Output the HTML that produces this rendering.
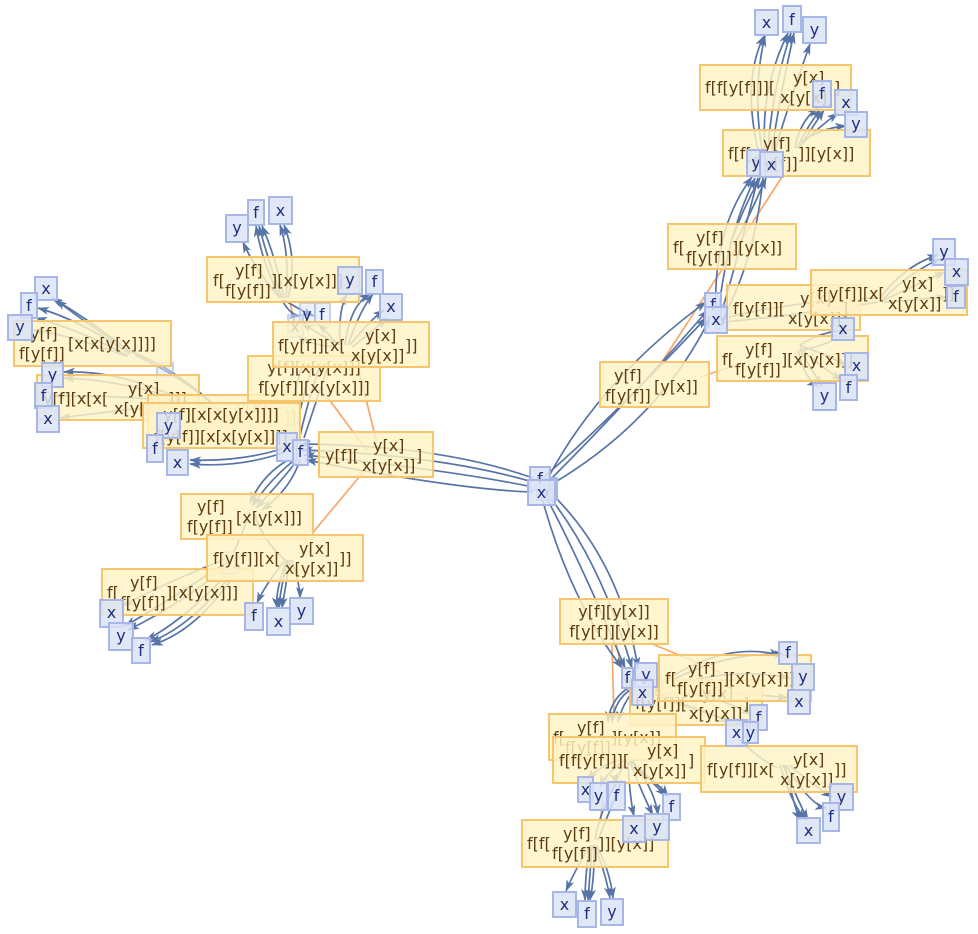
<!DOCTYPE html>
<html><head><meta charset="utf-8"><style>
html,body{margin:0;padding:0;background:#fff}
svg{display:block}
.yb{fill:#fff3c4;fill-opacity:.82;stroke:#f7c56e;stroke-width:2}
.yt{font-family:"DejaVu Sans","Liberation Sans",sans-serif;font-size:16px;fill:#5e3d10}
.bb{fill:#dbe3f6;fill-opacity:.85;stroke:#a6b7e7;stroke-width:2}
.bf{fill:#dbe3f6;fill-opacity:.5;stroke:#a6b7e7;stroke-opacity:.6;stroke-width:2}
.bt{font-family:"DejaVu Sans","Liberation Sans",sans-serif;font-size:16px;fill:#1d2f7e;text-anchor:middle}
.e path{fill:none;stroke:#5674a6;stroke-width:1.7;marker-end:url(#ar)}
.o line{stroke:#f9a66a;stroke-width:1.7}
</style></head><body>
<svg width="978" height="934" viewBox="0 0 978 934" xmlns="http://www.w3.org/2000/svg">
<defs><marker id="ar" viewBox="0 0 12 8" refX="11" refY="4" markerWidth="12" markerHeight="8" orient="auto" markerUnits="userSpaceOnUse"><path d="M0,0 L12,4 L0,8 L3,4z" fill="#5674a6"/></marker></defs>

<!-- orange edges -->
<g class="o">
<line x1="662" y1="362" x2="782" y2="177"/>
<line x1="700" y1="377" x2="745" y2="362"/>
<line x1="328" y1="398" x2="368" y2="452"/>
<line x1="358" y1="366" x2="376" y2="440"/>
<line x1="365" y1="470" x2="300" y2="548"/>
<line x1="290" y1="302" x2="296" y2="330"/>
<line x1="612" y1="644" x2="614" y2="718"/>
<line x1="616" y1="644" x2="628" y2="692"/>
<line x1="650" y1="643" x2="720" y2="672"/>
<line x1="603" y1="800" x2="600" y2="823"/>
</g>

<!-- blue edges -->
<g class="e">
<path d="M533,478 Q440,445 300,444"/>
<path d="M533,482 Q440,455 302,450"/>
<path d="M533,487 Q450,470 304,455"/>
<path d="M533,492 Q460,490 306,460"/>
<path d="M548,478 Q600,380 706,302"/>
<path d="M550,480 Q630,400 708,310"/>
<path d="M552,484 Q660,420 710,318"/>
<path d="M545,476 Q610,420 706,318"/>
<path d="M718,318 Q725,240 755,178"/>
<path d="M720,318 Q740,250 758,178"/>
<path d="M716,316 Q712,230 752,177"/>
<path d="M722,320 Q755,260 763,178"/>
<path d="M730,245 Q742,210 760,178"/>
<path d="M734,245 Q750,215 766,178"/>
<path d="M762,150 Q752,90 765,36"/>
<path d="M765,150 Q760,90 788,33"/>
<path d="M768,150 Q772,90 791,33"/>
<path d="M772,150 Q780,95 794,33"/>
<path d="M775,150 Q790,100 810,44"/>
<path d="M758,150 Q742,80 764,36"/>
<path d="M795,148 Q800,120 818,108"/>
<path d="M797,148 Q808,125 821,109"/>
<path d="M799,148 Q812,128 824,110"/>
<path d="M800,146 Q815,130 838,113"/>
<path d="M802,142 Q820,128 846,126"/>
<path d="M880,298 Q905,265 938,255"/>
<path d="M882,300 Q910,272 940,259"/>
<path d="M884,300 Q915,285 945,272"/>
<path d="M884,302 Q915,300 947,297"/>
<path d="M724,318 Q800,300 878,298" style="marker-end:none"/>
<path d="M724,322 Q800,315 878,302" style="marker-end:none"/>
<path d="M800,346 Q830,355 846,366"/>
<path d="M800,348 Q825,370 842,380"/>
<path d="M800,350 Q815,375 822,386"/>
<path d="M798,350 Q805,380 818,386"/>
<path d="M845,330 Q820,332 800,345" style="marker-end:none"/>
<path d="M845,332 Q830,345 802,350" style="marker-end:none"/>
<path d="M545,495 Q580,560 625,668"/>
<path d="M548,495 Q600,560 632,668"/>
<path d="M550,492 Q620,560 638,668"/>
<path d="M542,498 Q570,600 622,668"/>
<path d="M655,690 Q720,650 785,655"/>
<path d="M655,692 Q725,665 790,678"/>
<path d="M655,695 Q725,690 788,698"/>
<path d="M655,688 Q720,640 780,655"/>
<path d="M660,695 Q700,710 730,722"/>
<path d="M662,698 Q710,715 745,724"/>
<path d="M665,692 Q720,695 752,715"/>
<path d="M740,740 Q760,760 778,768" style="marker-end:none"/>
<path d="M780,765 Q790,800 805,820"/>
<path d="M783,765 Q800,805 808,820"/>
<path d="M786,765 Q810,805 826,808"/>
<path d="M789,765 Q820,790 832,797"/>
<path d="M785,765 Q795,810 800,820"/>
<path d="M630,690 Q615,700 612,722"/>
<path d="M634,690 Q622,705 618,722"/>
<path d="M628,688 Q610,700 608,722"/>
<path d="M625,758 Q600,765 587,780"/>
<path d="M625,760 Q605,775 600,786"/>
<path d="M627,760 Q615,780 616,784"/>
<path d="M630,760 Q650,780 666,796"/>
<path d="M630,762 Q660,785 668,796"/>
<path d="M628,762 Q630,800 634,816"/>
<path d="M630,762 Q645,800 653,815"/>
<path d="M632,760 Q655,790 658,815"/>
<path d="M618,780 Q600,810 595,840" style="marker-end:none"/>
<path d="M622,780 Q610,810 598,840" style="marker-end:none"/>
<path d="M590,845 Q575,870 566,891"/>
<path d="M590,845 Q585,875 585,900"/>
<path d="M592,845 Q590,875 588,900"/>
<path d="M594,845 Q595,875 590,900"/>
<path d="M594,845 Q605,870 610,898"/>
<path d="M596,845 Q610,870 613,898"/>
<path d="M292,462 Q270,480 252,506"/>
<path d="M296,462 Q278,485 256,508"/>
<path d="M300,460 Q290,490 262,510"/>
<path d="M288,460 Q262,475 250,503"/>
<path d="M250,512 Q240,540 230,560" style="marker-end:none"/>
<path d="M254,512 Q262,540 285,560" style="marker-end:none"/>
<path d="M285,560 Q265,585 257,603"/>
<path d="M287,560 Q275,590 277,608"/>
<path d="M288,560 Q280,590 279,608"/>
<path d="M290,560 Q285,590 282,608"/>
<path d="M292,560 Q300,585 300,598"/>
<path d="M230,560 Q170,600 125,626"/>
<path d="M232,562 Q180,605 128,630"/>
<path d="M236,565 Q185,620 146,640"/>
<path d="M238,565 Q195,625 150,642"/>
<path d="M240,566 Q200,630 152,645"/>
<path d="M228,558 Q160,585 122,606"/>
<path d="M296,436 Q300,400 315,360" style="marker-end:none"/>
<path d="M300,436 Q308,400 322,360" style="marker-end:none"/>
<path d="M304,438 Q315,405 330,360" style="marker-end:none"/>
<path d="M292,436 Q290,395 305,360" style="marker-end:none"/>
<path d="M340,345 Q338,310 347,294"/>
<path d="M345,345 Q350,305 370,294"/>
<path d="M348,345 Q360,310 373,294"/>
<path d="M350,345 Q370,320 384,310"/>
<path d="M352,347 Q375,330 386,318"/>
<path d="M340,345 Q320,335 302,323"/>
<path d="M338,345 Q325,330 318,324"/>
<path d="M336,347 Q310,345 298,336"/>
<path d="M280,298 Q255,270 243,242"/>
<path d="M280,298 Q262,262 256,226"/>
<path d="M282,298 Q268,260 259,226"/>
<path d="M284,298 Q275,255 262,226"/>
<path d="M286,298 Q290,255 280,225"/>
<path d="M288,298 Q298,260 284,225"/>
<path d="M282,300 Q290,315 300,316"/>
<path d="M284,300 Q300,310 314,316"/>
<path d="M285,448 Q240,462 190,460"/>
<path d="M285,452 Q240,468 190,464"/>
<path d="M180,400 Q120,380 64,378"/>
<path d="M180,402 Q120,395 54,396"/>
<path d="M180,404 Q120,410 60,418"/>
<path d="M182,400 Q120,370 64,372"/>
<path d="M240,420 Q210,405 182,401" style="marker-end:none"/>
<path d="M244,424 Q212,415 182,404" style="marker-end:none"/>
<path d="M130,352 Q90,320 52,298"/>
<path d="M132,352 Q95,330 56,300"/>
<path d="M130,354 Q80,320 38,308"/>
<path d="M128,356 Q80,330 36,318"/>
<path d="M126,356 Q70,335 33,330"/>
<path d="M230,420 Q180,370 132,352" style="marker-end:none"/>
<path d="M232,422 Q190,380 135,355" style="marker-end:none"/>
</g>

<!-- faint (under) blue boxes -->
<rect class="bf" x="300" y="303" width="15" height="22"/><text class="bt" x="307" y="320">y</text>
<rect class="bf" x="315" y="303" width="15" height="22"/><text class="bt" x="322" y="320">f</text>
<rect class="bf" x="288" y="315" width="15" height="22"/><text class="bt" x="295" y="332">x</text>
<rect class="bf" x="157" y="363" width="16" height="14"/>
<rect class="bf" x="716" y="305" width="14" height="24"/><text class="bt" x="723" y="322">y</text>
<rect class="bf" x="838" y="300" width="16" height="22"/><text class="bt" x="846" y="316">y</text>

<!-- yellow boxes -->
<g>
<rect class="yb" x="700" y="65" width="151" height="45"/>
<text class="yt" x="705" y="93">f[f[y[f]]][</text><text class="yt" x="793" y="83">y[x]</text><text class="yt" x="780" y="103">x[y[x]]</text><text class="yt" x="834" y="93">]</text>
</g>
<g>
<rect class="yb" x="723" y="130" width="147" height="46"/>
<text class="yt" x="728" y="159">f[f[</text><text class="yt" x="763" y="149">y[f]</text><text class="yt" x="752" y="169">f[y[f]]</text><text class="yt" x="798" y="159">]][y[x]]</text>
</g>
<g>
<rect class="yb" x="668" y="224" width="128" height="45"/>
<text class="yt" x="673" y="253">f[</text><text class="yt" x="696" y="243">y[f]</text><text class="yt" x="686" y="263">f[y[f]]</text><text class="yt" x="732" y="253">][y[x]]</text>
</g>
<g>
<rect class="yb" x="727" y="285" width="133" height="45"/>
<text class="yt" x="733" y="314">f[y[f]][</text><text class="yt" x="800" y="304">y[x]</text><text class="yt" x="788" y="324">x[y[x]]</text><text class="yt" x="842" y="314">]</text>
</g>
<g>
<rect class="yb" x="811" y="270" width="156" height="45"/>
<text class="yt" x="817" y="299">f[y[f]][x[</text><text class="yt" x="902" y="289">y[x]</text><text class="yt" x="888" y="309">x[y[x]]</text><text class="yt" x="942" y="299">]]</text>
</g>
<g>
<rect class="yb" x="717" y="336" width="151" height="45"/>
<text class="yt" x="722" y="365">f[</text><text class="yt" x="745" y="355">y[f]</text><text class="yt" x="735" y="375">f[y[f]]</text><text class="yt" x="781" y="365">][x[y[x]]]</text>
</g>
<g>
<rect class="yb" x="600" y="362" width="109" height="45"/>
<text class="yt" x="614" y="381">y[f]</text><text class="yt" x="605" y="401">f[y[f]]</text><text class="yt" x="654" y="392">[y[x]]</text>
</g>
<g>
<rect class="yb" x="319" y="432" width="114" height="45"/>
<text class="yt" x="325" y="461">y[f][</text><text class="yt" x="373" y="451">y[x]</text><text class="yt" x="362" y="471">x[y[x]]</text><text class="yt" x="416" y="461">]</text>
</g>
<g>
<rect class="yb" x="102" y="569" width="151" height="46"/>
<text class="yt" x="107" y="598">f[</text><text class="yt" x="130" y="588">y[f]</text><text class="yt" x="120" y="608">f[y[f]]</text><text class="yt" x="166" y="598">][x[y[x]]]</text>
</g>
<g>
<rect class="yb" x="181" y="494" width="132" height="45"/>
<text class="yt" x="197" y="512">y[f]</text><text class="yt" x="187" y="532">f[y[f]]</text><text class="yt" x="236" y="523">[x[y[x]]]</text>
</g>
<rect class="bf" x="222" y="552" width="16" height="22"/>
<g>
<rect class="yb" x="207" y="535" width="156" height="46"/>
<text class="yt" x="213" y="564">f[y[f]][x[</text><text class="yt" x="299" y="554">y[x]</text><text class="yt" x="285" y="574">x[y[x]]</text><text class="yt" x="339" y="564">]]</text>
</g>
<g>
<rect class="yb" x="14" y="321" width="157" height="45"/>
<text class="yt" x="30" y="339">y[f]</text><text class="yt" x="19" y="359">f[y[f]]</text><text class="yt" x="68" y="349">[x[x[y[x]]]]</text>
</g>
<g>
<rect class="yb" x="37" y="375" width="162" height="45"/>
<text class="yt" x="43" y="404">y[f][x[x[</text><text class="yt" x="128" y="394">y[x]</text><text class="yt" x="114" y="414">x[y[x]]</text><text class="yt" x="168" y="404">]]]</text>
</g>
<g>
<rect class="yb" x="148" y="395" width="152" height="45"/>
<text class="yt" x="236" y="413" fill-opacity=".4">y[x]</text><text class="yt" x="284" y="423" fill-opacity=".4">]]</text>
</g>
<g>
<rect class="yb" x="143" y="403" width="157" height="45"/>
<text class="yt" x="221" y="420" text-anchor="middle">y[f][x[x[y[x]]]]</text><text class="yt" x="221" y="442" text-anchor="middle">f[y[f]][x[x[y[x]]]]</text>
</g>
<g>
<rect class="yb" x="207" y="257" width="152" height="45"/>
<text class="yt" x="213" y="286">f[</text><text class="yt" x="235" y="276">y[f]</text><text class="yt" x="225" y="296">f[y[f]]</text><text class="yt" x="271" y="286">][x[y[x]]]</text>
</g>
<g>
<rect class="yb" x="248" y="356" width="132" height="45"/>
<text class="yt" x="314" y="373" text-anchor="middle">y[f][x[y[x]]]</text><text class="yt" x="314" y="393" text-anchor="middle">f[y[f]][x[y[x]]]</text>
</g>
<g>
<rect class="yb" x="273" y="322" width="156" height="45"/>
<text class="yt" x="278" y="351">f[y[f]][x[</text><text class="yt" x="365" y="341">y[x]</text><text class="yt" x="351" y="361">x[y[x]]</text><text class="yt" x="405" y="351">]]</text>
</g>
<g>
<rect class="yb" x="560" y="599" width="108" height="45"/>
<text class="yt" x="614" y="617" text-anchor="middle">y[f][y[x]]</text><text class="yt" x="614" y="637" text-anchor="middle">f[y[f]][y[x]]</text>
</g>
<g>
<rect class="yb" x="630" y="680" width="132" height="45"/>
<text class="yt" x="635" y="709">f[y[f]][</text><text class="yt" x="702" y="699">y[x]</text><text class="yt" x="689" y="719">x[y[x]]</text><text class="yt" x="743" y="709">]</text>
</g>
<g>
<rect class="yb" x="659" y="655" width="152" height="46"/>
<text class="yt" x="665" y="684">f[</text><text class="yt" x="688" y="674">y[f]</text><text class="yt" x="677" y="694">f[y[f]]</text><text class="yt" x="723" y="684">][x[y[x]]]</text>
</g>
<g>
<rect class="yb" x="549" y="714" width="127" height="46"/>
<text class="yt" x="553" y="743">f[</text><text class="yt" x="577" y="733">y[f]</text><text class="yt" x="565" y="753">f[y[f]]</text><text class="yt" x="611" y="743">][y[x]]</text>
</g>
<g>
<rect class="yb" x="553" y="737" width="152" height="46"/>
<text class="yt" x="559" y="766">f[f[y[f]]][</text><text class="yt" x="647" y="756">y[x]</text><text class="yt" x="633" y="776">x[y[x]]</text><text class="yt" x="688" y="766">]</text>
</g>
<g>
<rect class="yb" x="701" y="746" width="156" height="46"/>
<text class="yt" x="707" y="775">f[y[f]][x[</text><text class="yt" x="793" y="765">y[x]</text><text class="yt" x="780" y="785">x[y[x]]</text><text class="yt" x="834" y="775">]]</text>
</g>
<g>
<rect class="yb" x="522" y="820" width="146" height="47"/>
<text class="yt" x="527" y="849">f[f[</text><text class="yt" x="563" y="839">y[f]</text><text class="yt" x="552" y="859">f[y[f]]</text><text class="yt" x="598" y="849">]][y[x]]</text>
</g>

<!-- blue boxes -->
<rect class="bb" x="755" y="10" width="23" height="25"/><text class="bt" x="766.5" y="28">x</text>
<rect class="bb" x="783" y="6" width="18" height="26"/><text class="bt" x="792" y="25">f</text>
<rect class="bb" x="803" y="17" width="23" height="26"/><text class="bt" x="814.5" y="35">y</text>
<rect class="bb" x="813" y="81" width="18" height="26"/><text class="bt" x="822" y="99">f</text>
<rect class="bb" x="835" y="90" width="22" height="25"/><text class="bt" x="846" y="108">x</text>
<rect class="bb" x="845" y="112" width="22" height="25"/><text class="bt" x="856" y="129">y</text>
<rect class="bb" x="747" y="150" width="18" height="26"/><text class="bt" x="756" y="168">y</text>
<rect class="bb" x="760" y="152" width="23" height="25"/><text class="bt" x="771.5" y="170">x</text>
<rect class="bb" x="705" y="293" width="16" height="24"/><text class="bt" x="713" y="310">f</text>
<rect class="bb" x="705" y="307" width="22" height="26"/><text class="bt" x="716" y="325">x</text>
<rect class="bb" x="933" y="239" width="22" height="26"/><text class="bt" x="944" y="257">y</text>
<rect class="bb" x="945" y="259" width="23" height="26"/><text class="bt" x="956.5" y="277">x</text>
<rect class="bb" x="947" y="286" width="18" height="22"/><text class="bt" x="956" y="302">f</text>
<rect class="bb" x="832" y="318" width="22" height="22"/><text class="bt" x="843" y="334">x</text>
<rect class="bb" x="845" y="353" width="23" height="27"/><text class="bt" x="856.5" y="371">x</text>
<rect class="bb" x="840" y="375" width="17" height="25"/><text class="bt" x="848.5" y="393">f</text>
<rect class="bb" x="813" y="383" width="23" height="27"/><text class="bt" x="824.5" y="401">y</text>

<rect class="bb" x="537" y="478" width="20" height="22"/><text class="bt" x="547" y="494">y</text>
<rect class="bb" x="530" y="467" width="20" height="23"/><text class="bt" x="540" y="484">f</text>
<rect class="bb" x="528" y="480" width="27" height="25"/><text class="bt" x="541.5" y="498">x</text>

<rect class="bb" x="277" y="433" width="20" height="28"/><text class="bt" x="287" y="452">x</text>
<rect class="bb" x="293" y="440" width="15" height="25"/><text class="bt" x="300.5" y="457">f</text>

<rect class="bb" x="245" y="603" width="18" height="27"/><text class="bt" x="254" y="621">f</text>
<rect class="bb" x="267" y="608" width="23" height="27"/><text class="bt" x="278.5" y="627">x</text>
<rect class="bb" x="290" y="598" width="23" height="26"/><text class="bt" x="301.5" y="616">y</text>
<rect class="bb" x="100" y="600" width="23" height="27"/><text class="bt" x="111.5" y="618">x</text>
<rect class="bb" x="109" y="623" width="24" height="27"/><text class="bt" x="121" y="641">y</text>
<rect class="bb" x="132" y="638" width="18" height="25"/><text class="bt" x="141" y="656">f</text>

<rect class="bb" x="226" y="215" width="22" height="27"/><text class="bt" x="237" y="233">y</text>
<rect class="bb" x="248" y="200" width="16" height="25"/><text class="bt" x="256" y="218">f</text>
<rect class="bb" x="269" y="197" width="23" height="27"/><text class="bt" x="280.5" y="216">x</text>
<rect class="bb" x="338" y="267" width="24" height="27"/><text class="bt" x="350" y="285">y</text>
<rect class="bb" x="366" y="270" width="17" height="24"/><text class="bt" x="374.5" y="287">f</text>
<rect class="bb" x="380" y="294" width="22" height="26"/><text class="bt" x="391" y="312">x</text>

<rect class="bb" x="35" y="277" width="22" height="23"/><text class="bt" x="46" y="294">x</text>
<rect class="bb" x="21" y="293" width="16" height="25"/><text class="bt" x="29" y="311">f</text>
<rect class="bb" x="8" y="315" width="24" height="25"/><text class="bt" x="20" y="332">y</text>
<rect class="bb" x="42" y="363" width="21" height="24"/><text class="bt" x="52.5" y="380">y</text>
<rect class="bb" x="35" y="383" width="17" height="25"/><text class="bt" x="43.5" y="401">f</text>
<rect class="bb" x="37" y="406" width="22" height="26"/><text class="bt" x="48" y="424">x</text>
<rect class="bb" x="157" y="413" width="23" height="25"/><text class="bt" x="168.5" y="431">y</text>
<rect class="bb" x="147" y="435" width="16" height="27"/><text class="bt" x="155" y="454">f</text>
<rect class="bb" x="167" y="450" width="21" height="25"/><text class="bt" x="177.5" y="468">x</text>

<rect class="bb" x="779" y="642" width="18" height="22"/><text class="bt" x="788" y="658">f</text>
<rect class="bb" x="792" y="664" width="22" height="26"/><text class="bt" x="803" y="682">y</text>
<rect class="bb" x="788" y="690" width="22" height="24"/><text class="bt" x="799" y="707">x</text>
<rect class="bb" x="622" y="668" width="11" height="20"/><text class="bt" x="627.5" y="683">f</text>
<rect class="bb" x="635" y="663" width="22" height="24"/><text class="bt" x="646" y="680">y</text>
<rect class="bb" x="632" y="680" width="21" height="25"/><text class="bt" x="642.5" y="698">x</text>
<rect class="bb" x="750" y="705" width="17" height="25"/><text class="bt" x="758.5" y="723">f</text>
<rect class="bb" x="726" y="720" width="21" height="26"/><text class="bt" x="736.5" y="738">x</text>
<rect class="bb" x="743" y="722" width="15" height="21"/><text class="bt" x="750.5" y="738">y</text>
<rect class="bb" x="830" y="784" width="23" height="26"/><text class="bt" x="841.5" y="802">y</text>
<rect class="bb" x="823" y="803" width="16" height="28"/><text class="bt" x="831" y="822">f</text>
<rect class="bb" x="797" y="818" width="23" height="25"/><text class="bt" x="808.5" y="836">x</text>
<rect class="bb" x="578" y="777" width="15" height="25"/><text class="bt" x="585.5" y="795">x</text>
<rect class="bb" x="590" y="783" width="17" height="27"/><text class="bt" x="598.5" y="801">y</text>
<rect class="bb" x="608" y="782" width="17" height="28"/><text class="bt" x="616.5" y="801">f</text>
<rect class="bb" x="663" y="794" width="17" height="26"/><text class="bt" x="671.5" y="812">f</text>
<rect class="bb" x="623" y="816" width="22" height="26"/><text class="bt" x="634" y="834">x</text>
<rect class="bb" x="645" y="814" width="24" height="26"/><text class="bt" x="657" y="832">y</text>
<rect class="bb" x="553" y="892" width="23" height="25"/><text class="bt" x="564.5" y="910">x</text>
<rect class="bb" x="578" y="901" width="18" height="26"/><text class="bt" x="587" y="919">f</text>
<rect class="bb" x="601" y="899" width="22" height="26"/><text class="bt" x="612" y="917">y</text>
</svg>
</body></html>
